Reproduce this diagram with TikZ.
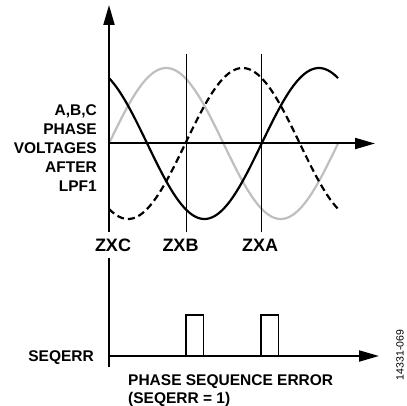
\documentclass[tikz,border=0pt]{standalone}
\usepackage{fontspec}
\setmainfont{Liberation Sans}
\usetikzlibrary{arrows.meta}

\tikzset{
  axis/.style={line width=2pt,-{Triangle[length=20pt,width=11pt]}},
  wave/.style={line width=2.2pt},
  phA/.style={black!25},
  phB/.style={black},
  phC/.style={black,dash pattern=on 7pt off 4pt},
  zxline/.style={line width=1pt},
  pulse/.style={line width=1.6pt},
  lbl/.style={font=\bfseries\fontsize{15.5}{19}\selectfont},
  zxlbl/.style={font=\bfseries\fontsize{18}{20}\selectfont,text height=12.9pt,text depth=0pt}
}

\begin{document}
\begin{tikzpicture}[x=1pt,y=-1pt,every node/.style={inner sep=0pt}]
  \useasboundingbox (0,0) rectangle (407,406);

  % Ejes superiores
  \coordinate (ybot) at (109,232);
  \coordinate (ytop) at (109,5);
  \coordinate (o1) at (109,143.5);
  \coordinate (xtip) at (375,143.5);

  % Ondas A, B, C
  \foreach \ph/\st in {0/phA, 120/phB, -120/phC}
    \draw[wave,\st] plot[domain=0:360,samples=90] ({109+\x/360*229},{143.5-75.5*sin(\x+\ph)});

  \draw[axis] (ybot) -- (ytop);
  \draw[axis] (o1) -- (xtip);

  % Cruces por cero
  \foreach \xx/\nm in {186/B, 261/A} {
    \coordinate (zx\nm t) at (\xx,54);
    \coordinate (zx\nm b) at (\xx,232);
    \draw[zxline] (zx\nm t) -- (zx\nm b);
  }

  % Etiquetas
  \node[lbl,align=right,anchor=north east] (volt) at (97,104.5) {A,B,C\\PHASE\\VOLTAGES\\AFTER\\LPF1};
  \node[zxlbl] (lzxc) at (113,245) {ZXC};
  \node[zxlbl] (lzxb) at (180.5,245) {ZXB};
  \node[zxlbl] (lzxa) at (260,245) {ZXA};

  % Eje inferior
  \coordinate (y2bot) at (109,367);
  \coordinate (y2top) at (109,258);
  \coordinate (o2) at (109,356);
  \coordinate (x2tip) at (379,356);
  \draw[line width=2pt] (y2bot) -- (y2top);
  \draw[axis] (o2) -- (x2tip);

  % Pulsos SEQERR
  \foreach \xx in {186, 261}
    \draw[pulse] (\xx,356) -- (\xx,315) -- (\xx+17.5,315) -- (\xx+17.5,356);

  \node[lbl,anchor=east,text height=11.1pt,text depth=0pt] (seq) at (94,356) {SEQERR};
  \node[lbl,align=left,anchor=north west,font=\bfseries\fontsize{15.5}{17.5}\selectfont] (err) at (128,374.5) {PHASE SEQUENCE ERROR\\(SEQERR = 1)};

  % Número de figura
  \node[rotate=90,font=\fontsize{10.5}{12}\selectfont] (fig) at (400,355) {14331-069};
\end{tikzpicture}
\end{document}
